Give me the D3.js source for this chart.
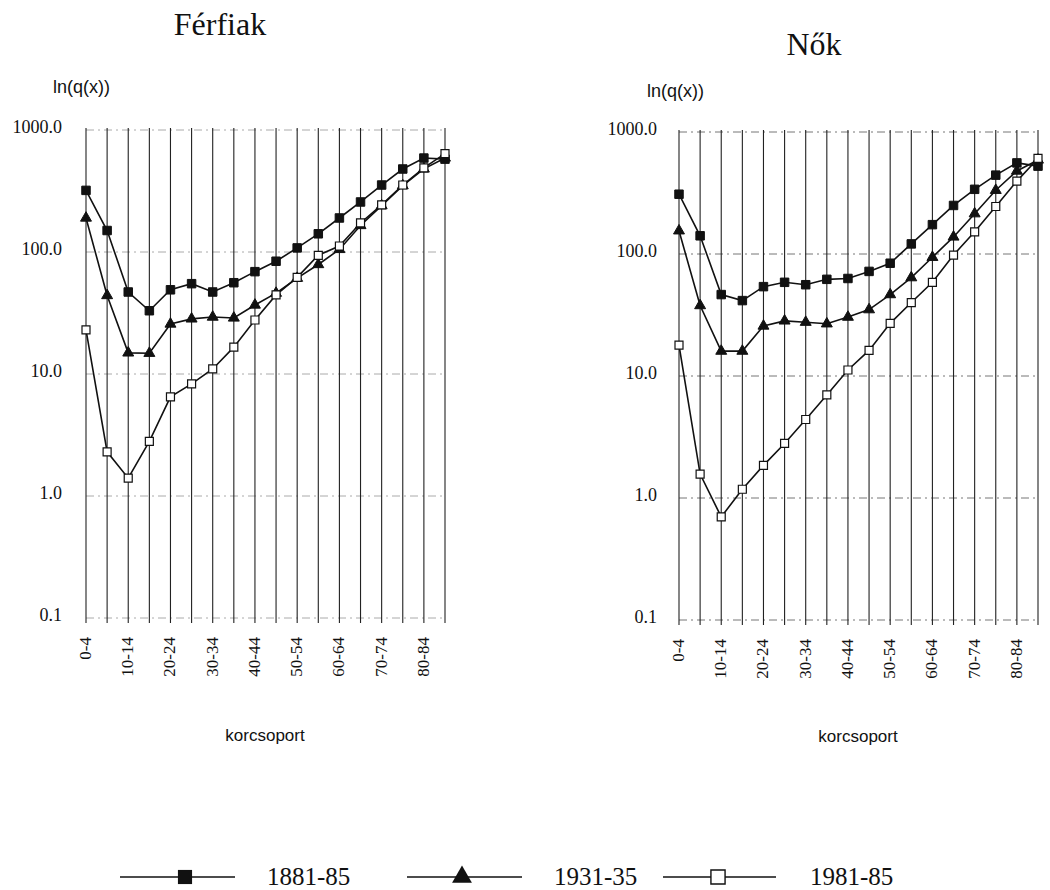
<!DOCTYPE html>
<html>
<head>
<meta charset="utf-8">
<script src="https://cdn.jsdelivr.net/npm/d3@7/dist/d3.min.js"></script>
<style>
  body { margin: 0; background: #fff; }
  text { fill: #111; }
</style>
</head>
<body>
<svg id="chart" width="1050" height="890"></svg>
<script>
// age groups (x categories) and the labels shown under the axis
const ageGroups = ["0-4", "5-9", "10-14", "15-19", "20-24", "25-29", "30-34", "35-39", "40-44",
    "45-49", "50-54", "55-59", "60-64", "65-69", "70-74", "75-79", "80-84", "85-"];
const tickLabels = ["0-4", "10-14", "20-24", "30-34", "40-44", "50-54", "60-64", "70-74", "80-84"];
const yTicks = [0.1, 1, 10, 100, 1000];
const periods = ["1881-85", "1931-35", "1981-85"];

// Férfiak
const men1881 = [320, 150, 47, 33, 49, 55, 47, 56, 69, 84, 108, 141, 190, 257, 354, 479, 589, 577];
const men1931 = [190, 44, 14.9, 14.8, 25.7, 28.3, 29.3, 28.8, 36.8, 46, 61, 79, 105, 165, 240, 350, 480, 590];
const men1981 = [23, 2.3, 1.4, 2.8, 6.5, 8.3, 11, 16.6, 27.7, 44.5, 62, 94, 112, 173, 243, 354, 489, 640];

// Nők
const women1881 = [309, 141, 46.5, 41.5, 54, 58.6, 56, 62, 63, 72, 84, 121, 174, 250, 339, 443, 558, 525];
const women1931 = [155, 37.8, 16, 16, 25.7, 28.3, 27.6, 26.8, 30.4, 35, 46.5, 64, 94, 138, 214, 333, 479, 590];
const women1981 = [17.9, 1.57, 0.70, 1.18, 1.85, 2.8, 4.4, 7.0, 11.2, 16.2, 27, 40, 58.6, 98, 152, 245, 396, 607];

const serif = "'Liberation Serif', 'Times New Roman', serif";
const sans = "'Liberation Sans Narrow', 'Arial Narrow', 'Liberation Sans', Arial, sans-serif";

const svg = d3.select("#chart");

const panels = [
    { title: "Nők", series: [women1881, women1931, women1981], x0: 679, x1: 1038, yTop: 132, yBot: 620,
      titleX: 814, titleY: 55, unitX: 647, unitY: 97, labelRight: 657, xTitleX: 858, xTitleY: 742, gridColor: "#777" },
    { title: "Férfiak", series: [men1881, men1931, men1981], x0: 86, x1: 445, yTop: 130, yBot: 618,
      titleX: 220, titleY: 35, unitX: 53, unitY: 93, labelRight: 62, xTitleX: 265, xTitleY: 741, gridColor: "#aaa" }
];

const markerFor = [
    sel => sel.attr("d", d3.symbol().type(d3.symbolSquare).size(72)).attr("fill", "#111").attr("stroke", "#111"),
    sel => sel.attr("d", d3.symbol().type(d3.symbolTriangle).size(52)).attr("fill", "#111").attr("stroke", "#111"),
    sel => sel.attr("d", d3.symbol().type(d3.symbolSquare).size(64)).attr("fill", "#fff").attr("stroke", "#111").attr("stroke-width", 1.2)
];

panels.forEach(p => {
    const x = d3.scalePoint().domain(ageGroups).range([p.x0, p.x1]);
    const y = d3.scaleLog().domain([0.1, 1000]).range([p.yBot, p.yTop]);
    const g = svg.append("g");

    // title and unit
    g.append("text").attr("x", p.titleX).attr("y", p.titleY)
        .attr("text-anchor", "middle").style("font-family", serif).style("font-size", "32px")
        .text(p.title);
    g.append("text").attr("x", p.unitX).attr("y", p.unitY)
        .style("font-family", sans).style("font-size", "18px")
        .text("ln(q(x))");

    // horizontal dashed gridlines
    g.selectAll(".hgrid").data(yTicks).enter().append("line")
        .attr("x1", p.x0).attr("x2", p.x1)
        .attr("y1", d => y(d)).attr("y2", d => y(d))
        .attr("stroke", p.gridColor).attr("stroke-width", 1)
        .attr("stroke-dasharray", "8,4,2,4");

    // vertical lines at every age group
    g.selectAll(".vgrid").data(ageGroups).enter().append("line")
        .attr("x1", d => x(d)).attr("x2", d => x(d))
        .attr("y1", p.yTop - 2).attr("y2", p.yBot + 5)
        .attr("stroke", "#222").attr("stroke-width", 1.1);

    // y axis labels
    g.selectAll(".ylab").data(yTicks).enter().append("text")
        .attr("x", p.labelRight).attr("y", d => y(d) - 3)
        .attr("dy", "0.35em").attr("text-anchor", "end")
        .style("font-family", serif).style("font-size", "18px")
        .text(d => d3.format(".1f")(d));

    // x axis labels (rotated)
    g.selectAll(".xlab").data(tickLabels).enter().append("text")
        .attr("transform", d => `translate(${x(d) + 5},${p.yBot + 19}) rotate(-90)`)
        .attr("text-anchor", "end")
        .style("font-family", serif).style("font-size", "17px")
        .text(d => d);

    g.append("text").attr("x", p.xTitleX).attr("y", p.xTitleY)
        .attr("text-anchor", "middle").style("font-family", sans).style("font-size", "17px")
        .text("korcsoport");

    const line = d3.line().x((d, i) => x(ageGroups[i])).y(d => y(d));
    p.series.slice().reverse().forEach(s => {
        g.append("path").datum(s).attr("d", line)
            .attr("fill", "none").attr("stroke", "#111").attr("stroke-width", 1.6);
    });
    p.series.forEach((s, k) => {
        g.selectAll(".m" + k).data(s).enter().append("path")
            .attr("transform", (d, i) => `translate(${x(ageGroups[i])},${y(d)})`)
            .call(markerFor[k]);
    });
});

// legend
const legendX = [120, 407, 663];
const legend = svg.append("g").attr("transform", "translate(0,877)");
periods.forEach((name, k) => {
    const lx = legendX[k];
    const w = k === 2 ? 113 : 115;
    legend.append("line").attr("x1", lx).attr("x2", lx + w).attr("y1", 0).attr("y2", 0)
        .attr("stroke", "#111").attr("stroke-width", 1.6);
    const m = legend.append("path").attr("transform", `translate(${lx + (k === 0 ? 65 : 55)},0)`);
    if (k === 0) m.attr("d", d3.symbol().type(d3.symbolSquare).size(200)).attr("fill", "#111");
    if (k === 1) m.attr("d", d3.symbol().type(d3.symbolTriangle).size(170)).attr("fill", "#111");
    if (k === 2) m.attr("d", d3.symbol().type(d3.symbolSquare).size(200)).attr("fill", "#fff").attr("stroke", "#111").attr("stroke-width", 1.4);
    legend.append("text").attr("x", lx + 147).attr("y", 8)
        .style("font-family", serif).style("font-size", "25px")
        .text(name);
});
</script>
</body>
</html>
